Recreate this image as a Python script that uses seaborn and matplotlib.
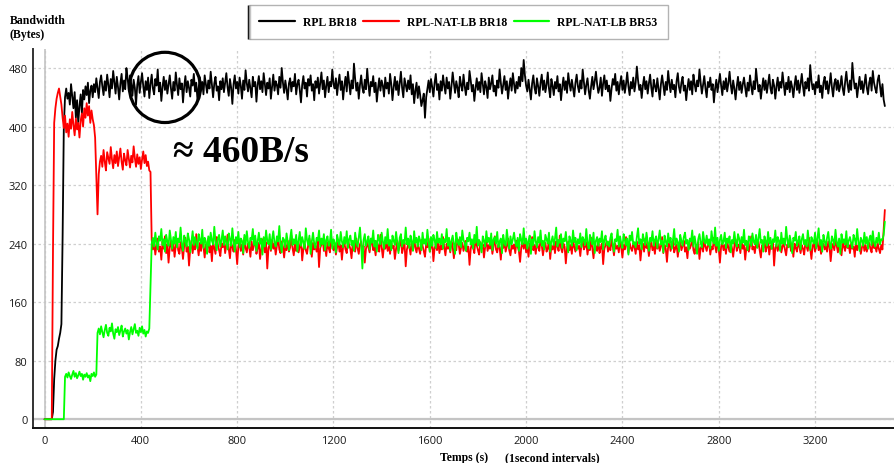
import numpy as np
import pandas as pd
import matplotlib
matplotlib.use("Agg")
import matplotlib.pyplot as plt
from matplotlib.lines import Line2D
from matplotlib.patches import Ellipse
from matplotlib.ticker import MultipleLocator
from matplotlib.font_manager import FontProperties
import seaborn as sns

STEP = 5  # seconds between plotted samples

series_names = ["RPL BR18", "RPL-NAT-LB BR18", "RPL-NAT-LB BR53"]
series_colors = ["#000000", "#ff0000", "#00ff00"]

rpl_br18 = [
    0, 0, 0, 0, 0, 0, 0, 10, 55, 80, 95, 100, 110, 118, 130, 250, 400, 440,
    452, 438, 446, 430, 458, 441, 425, 447, 412, 436, 405, 428, 444, 418, 450, 437, 455, 443, 460, 432, 449, 456, 440,
    458, 447, 466, 452, 439, 461, 470, 455, 443, 462, 449, 471, 457, 440, 465, 452, 476, 460, 445, 468,
    454, 437, 459, 472, 448, 463, 451, 480, 466, 449, 470, 458, 442, 464, 453, 430, 457, 469, 446, 461,
    473, 455, 441, 462, 450, 467, 439, 458, 471, 452, 444, 465, 456, 478, 448, 460, 435, 454, 468, 450,
    463, 445, 458, 470, 452, 438, 461, 449, 474, 457, 443, 466, 451, 459, 433, 455, 469, 447, 462, 453,
    441, 464, 456, 472, 448, 460, 437, 453, 467, 450, 461, 444, 470, 458, 446, 463, 452, 475, 457, 440,
    459, 468, 449, 455, 436, 462, 451, 466, 447, 460, 473, 454, 442, 465, 453, 431, 458, 470, 452, 461,
    445, 467, 456, 438, 463, 450, 477, 459, 448, 464, 452, 440, 468, 455, 461, 434, 457, 469, 451, 462,
    447, 473, 458, 443, 460, 452, 466, 438, 455, 471, 449, 462, 457, 444, 468, 453, 480, 460, 446, 463,
    451, 437, 459, 466, 448, 461, 455, 472, 444, 458, 464, 450, 433, 457, 469, 452, 460, 441, 465, 456,
    470, 449, 458, 436, 462, 453, 467, 445, 459, 474, 451, 463, 440, 456, 468, 447, 461, 455, 478, 458,
    452, 466, 443, 459, 471, 450, 462, 437, 456, 468, 448, 475, 459, 444, 463, 452, 486, 465, 449, 460,
    438, 457, 470, 453, 446, 464, 451, 479, 458, 442, 461, 455, 469, 447, 460, 434, 452, 466, 449, 463,
    456, 441, 467, 452, 460, 445, 472, 458, 436, 454, 468, 450, 462, 443, 459, 475, 453, 440, 466, 457,
    448, 463, 451, 470, 444, 458, 432, 449, 460, 439, 455, 443, 428, 436, 445, 412, 440, 452, 463, 447,
    465, 454, 441, 460, 472, 450, 458, 437, 462, 449, 470, 456, 445, 467, 452, 461, 438, 455, 474, 459,
    446, 462, 453, 440, 468, 457, 449, 471, 455, 443, 460, 451, 476, 463, 448, 457, 435, 452, 466, 450,
    461, 447, 473, 458, 444, 462, 454, 439, 467, 451, 459, 470, 448, 456, 442, 463, 453, 478, 460, 445,
    457, 469, 450, 462, 438, 455, 466, 449, 473, 458, 446, 461, 452, 468, 455, 480, 462, 491, 470, 456,
    448, 464, 451, 437, 459, 470, 453, 445, 466, 455, 442, 460, 471, 450, 463, 447, 457, 474, 452, 440,
    465, 456, 443, 461, 452, 469, 448, 458, 436, 454, 467, 450, 462, 446, 473, 459, 449, 464, 453, 441,
    460, 471, 455, 447, 463, 452, 478, 461, 444, 457, 466, 449, 438, 455, 468, 451, 462, 475, 458, 446,
    453, 467, 442, 459, 470, 451, 463, 448, 456, 435, 452, 465, 457, 472, 449, 461, 444, 458, 469, 450,
    463, 446, 458, 474, 455, 443, 461, 452, 467, 448, 460, 482, 463, 450, 457, 439, 456, 468, 451, 462,
    445, 459, 471, 453, 441, 464, 455, 448, 466, 452, 437, 458, 470, 456, 443, 461, 450, 476, 459, 447,
    464, 451, 457, 440, 462, 473, 454, 446, 460, 468, 449, 456, 436, 453, 465, 450, 462, 444, 471, 458,
    448, 463, 455, 478, 460, 445, 457, 469, 452, 440, 461, 454, 467, 450, 458, 433, 452, 464, 447, 460,
    472, 456, 443, 462, 451, 466, 448, 459, 475, 457, 445, 463, 452, 437, 455, 468, 450, 461, 446, 458,
    467, 453, 441, 460, 449, 470, 455, 444, 462, 451, 479, 462, 448, 457, 438, 453, 466, 450, 463, 446,
    459, 471, 452, 445, 464, 456, 438, 455, 467, 449, 461, 453, 474, 458, 443, 460, 451, 468, 447, 462,
    454, 440, 457, 469, 450, 463, 446, 458, 472, 455, 442, 461, 452, 466, 449, 484, 463, 451, 458, 444,
    461, 453, 470, 447, 456, 439, 460, 468, 451, 462, 445, 457, 473, 454, 441, 459, 465, 450, 463, 448,
    456, 469, 452, 443, 461, 475, 458, 447, 463, 450, 487, 466, 452, 459, 440, 455, 468, 451, 462, 446,
    458, 471, 453, 444, 460, 467, 449, 476, 460, 452, 446, 463, 470, 455, 441, 458, 437, 428,
]

rpl_nat_lb_br18 = [
    0, 0, 0, 0, 0, 0, 0,
    230, 405, 425, 438, 446, 452, 441, 430, 412, 398, 415, 392, 404, 386, 410, 397, 420, 402, 388, 411,
    396, 405, 385, 408, 418, 400, 425, 412, 432, 415, 428, 405, 422, 410, 402, 385, 330, 280, 335, 352,
    360, 345, 368, 352, 340, 365, 357, 349, 372, 355, 343, 361, 350, 366, 346, 358, 370, 352, 341, 363,
    354, 347, 368, 356, 344, 360, 351, 373, 357, 345, 362, 349, 358, 342, 355, 366, 350, 361, 346, 352, 340,
    338, 245,
    232, 241, 225, 238, 247, 229, 236, 218, 243, 233, 250, 227, 239, 214, 235, 244, 230, 240, 222, 237,
    246, 231, 226, 242, 235, 219, 238, 248, 229, 236, 210, 233, 244, 227, 240, 232, 253, 237, 224, 241,
    230, 245, 236, 221, 239, 233, 247, 228, 237, 216, 242, 234, 226, 249, 238, 231, 223, 240, 235, 244,
    227, 238, 252, 233, 220, 241, 236, 229, 245, 232, 212, 237, 243, 230, 239, 225, 248, 234, 228, 240,
    236, 222, 243, 231, 238, 247, 226, 235, 241, 219, 233, 246, 237, 228, 242, 206, 234, 239, 230, 245,
    233, 240, 225, 237, 249, 232, 227, 243, 236, 221, 238, 231, 244, 229, 235, 251, 234, 224, 239, 230,
    242, 228, 236, 245, 217, 233, 240, 231, 226, 238, 247, 235, 222, 241, 232, 237, 229, 243, 208, 234,
    239, 246, 230, 236, 223, 242, 234, 228, 250, 237, 231, 240, 225, 235, 244, 229, 238, 218, 236, 241,
    232, 227, 245, 238, 233, 220, 241, 236, 229, 247, 234, 226, 239, 243, 230, 237, 214, 233, 242, 235,
    228, 240, 247, 231, 236, 224, 243, 237, 229, 252, 235, 221, 238, 233, 245, 230, 239, 226, 241, 234,
    237, 219, 233, 244, 230, 238, 246, 227, 235, 241, 209, 232, 239, 236, 225, 243, 231, 248, 234, 228,
    240, 233, 226, 245, 237, 230, 222, 239, 235, 247, 229, 236, 242, 216, 234, 238, 231, 244, 227, 237,
    232, 249, 235, 224, 240, 233, 238, 228, 243, 236, 220, 237, 231, 246, 239, 226, 235, 241, 230, 237,
    244, 229, 236, 211, 233, 240, 235, 227, 248, 238, 231, 225, 242, 234, 239, 221, 236, 245, 230, 238,
    233, 241, 226, 237, 250, 232, 228, 239, 235, 218, 240, 234, 243, 229, 236, 247, 231, 224, 238, 233,
    239, 227, 244, 236, 230, 215, 235, 241, 233, 246, 228, 237, 222, 240, 234, 249, 231, 238, 226, 242,
    235, 230, 247, 238, 224, 236, 241, 229, 233, 245, 219, 237, 232, 240, 227, 243, 236, 230, 251, 234,
    228, 240, 236, 213, 234, 243, 231, 238, 226, 246, 235, 229, 241, 233, 237, 223, 239, 244, 232, 236,
    242, 225, 237, 231, 248, 234, 220, 239, 236, 230, 245, 227, 235, 240, 212, 233, 238, 243, 229, 237,
    231, 246, 236, 224, 240, 233, 237, 228, 244, 235, 221, 238, 232, 249, 236, 227, 241, 234, 230, 239,
    236, 226, 243, 232, 238, 217, 235, 240, 229, 247, 234, 238, 223, 236, 242, 231, 237, 226, 244, 233,
    240, 230, 236, 249, 227, 238, 233, 215, 236, 241, 230, 237, 245, 228, 234, 239, 222, 236, 243, 231,
    237, 244, 229, 235, 220, 240, 233, 238, 247, 231, 226, 239, 235, 242, 219, 234, 237, 229, 245, 236,
    230, 238, 243, 225, 236, 232, 248, 237, 228, 240, 234, 214, 236, 241, 231, 238, 226, 243, 235, 229,
    241, 234, 222, 237, 246, 230, 236, 239, 227, 244, 233, 238, 218, 235, 240, 229, 237, 250, 232, 236,
    227, 240, 235, 243, 231, 221, 238, 234, 246, 229, 236, 241, 225, 237, 233, 245, 210, 234, 239, 230,
    237, 244, 228, 236, 241, 232, 224, 239, 235, 247, 230, 237, 222, 240, 234, 229, 243, 236, 227, 238,
    233, 225, 242, 236, 230, 248, 234, 219, 237, 241, 229, 236, 244, 231, 238, 226, 235, 240, 232, 237,
    229, 243, 236, 216, 234, 240, 231, 246, 237, 228, 239, 233, 224, 241, 236, 230, 245, 234, 238, 227,
    240, 233, 236, 222, 244, 231, 237, 239, 226, 235, 242, 230, 238, 229, 236, 241, 233, 228, 245, 234,
    236, 229, 241, 233, 227, 238, 232, 258, 286,
]

rpl_nat_lb_br53 = [
    0, 0, 0, 0, 0, 0, 0, 0, 0, 0, 0, 0, 0, 0, 0, 0, 0,
    58,
    62, 57, 64, 59, 55, 61, 66, 58, 63, 56, 60, 65, 59, 62, 54, 61, 58, 63, 57, 60, 52, 62, 59, 64, 58, 61,
    118,
    124, 116, 127, 119, 112, 122, 129, 118, 114, 125, 120, 131, 117, 110, 123, 119, 126, 115, 121, 128,
    113, 120, 124, 117, 122, 109, 119, 126, 116, 123, 130, 118, 121, 114, 125, 119, 127, 117, 122, 113,
    120, 118, 124,
    180, 240,
    248, 236, 255, 241, 232, 250, 244, 260, 238, 246, 229, 252, 243, 237, 258, 245, 233, 249, 240, 256,
    235, 247, 242, 262, 239, 230, 251, 244, 236, 254, 246, 228, 243, 257, 238, 249, 241, 233, 253, 245,
    240, 259, 234, 248, 243, 226, 250, 237, 255, 244, 239, 263, 242, 231, 247, 252, 236, 245, 258, 238,
    250, 241, 232, 254, 246, 237, 261, 243, 229, 249, 240, 256, 235, 247, 244, 227, 252, 239, 257, 242,
    234, 248, 245, 260, 238, 251, 230, 243, 255, 240, 247, 225, 249, 236, 258, 244, 239, 253, 232, 246,
    257, 241, 236, 250, 243, 264, 239, 228, 248, 245, 235, 254, 242, 231, 247, 259, 238, 246, 240, 252,
    229, 244, 256, 237, 249, 242, 233, 261, 245, 238, 251, 226, 243, 255, 240, 234, 248, 244, 258, 236,
    247, 239, 253, 231, 245, 250, 237, 242, 259, 233, 246, 241, 228, 252, 244, 238, 256, 243, 235, 249,
    240, 257, 234, 246, 251, 238, 244, 230, 255, 242, 236, 248, 262, 239, 206, 245, 253, 237, 243, 250,
    232, 247, 241, 258, 236, 244, 229, 252, 246, 239, 255, 243, 233, 249, 240, 260, 237, 245, 231, 251,
    244, 238, 256, 242, 227, 248, 253, 236, 245, 240, 262, 239, 247, 234, 251, 243, 230, 257, 241, 248,
    236, 250, 244, 231, 255, 240, 246, 238, 259, 243, 229, 249, 237, 252, 245, 234, 256, 241, 247, 239,
    253, 233, 246, 242, 260, 237, 248, 230, 244, 251, 240, 226, 255, 243, 238, 249, 235, 258, 245, 241,
    230, 248, 243, 255, 239, 246, 233, 252, 241, 263, 237, 245, 240, 228, 250, 244, 236, 257, 242, 248,
    238, 254, 231, 246, 249, 240, 256, 235, 243, 247, 227, 252, 241, 237, 259, 244, 233, 250, 239, 246,
    255, 242, 236, 248, 230, 253, 245, 239, 261, 240, 247, 233, 244, 251, 226, 246, 238, 257, 243, 235,
    249, 241, 258, 237, 244, 232, 252, 246, 240, 255, 229, 243, 250, 238, 247, 262, 236, 245, 241, 253,
    234, 247, 243, 256, 239, 228, 250, 244, 237, 258, 242, 248, 231, 246, 240, 254, 235, 249, 245, 238,
    260, 241, 233, 252, 246, 239, 255, 227, 244, 249, 237, 247, 242, 257, 232, 245, 251, 238, 243, 236,
    248, 254, 240, 229, 246, 243, 259, 236, 250, 241, 234, 253, 245, 238, 247, 225, 251, 244, 256, 239,
    242, 235, 249, 261, 240, 246, 232, 253, 244, 238, 255, 242, 230, 248, 243, 257, 237, 245, 250, 234,
    246, 258, 239, 244, 228, 251, 243, 236, 254, 241, 248, 233, 245, 260, 238, 247, 242, 229, 252, 244,
    237, 249, 255, 240, 245, 231, 247, 243, 258, 236, 250, 239, 226, 246, 253, 241, 235, 256, 244, 240,
    251, 238, 246, 233, 257, 244, 240, 262, 237, 248, 230, 245, 252, 239, 243, 255, 234, 247, 241, 250,
    228, 245, 240, 256, 242, 236, 253, 247, 233, 249, 241, 259, 238, 244, 231, 250, 246, 237, 254, 243,
    239, 252, 234, 247, 260, 241, 245, 229, 250, 243, 237, 256, 240, 248, 233, 246, 242, 258, 236, 249,
    244, 230, 255, 240, 247, 238, 263, 245, 235, 251, 242, 227, 248, 244, 256, 237, 243, 250, 232, 246,
    253, 239, 245, 236, 258, 242, 231, 249, 244, 240, 255, 234, 247, 261, 238, 245, 229, 252, 243, 237,
    248, 256, 240, 233, 250, 245, 238, 259, 242, 236, 247, 226, 253, 241, 246, 239, 257, 235, 244, 249,
    241, 234, 252, 246, 239, 260, 243, 230, 248, 244, 237, 255, 240, 249, 233, 246, 251, 238, 257, 242,
    236, 248, 241, 255, 239, 246, 245, 252, 270,
]

x_ticks = [0, 400, 800, 1200, 1600, 2000, 2400, 2800, 3200]
y_ticks = [0, 80, 160, 240, 320, 400, 480]
annotation_text = "\u2248 460B/s"
y_title = ["Bandwidth", "(Bytes)"]
x_title = ["Temps (s)", "(1second intervals)"]

# ---- long-form table -------------------------------------------------------
frames = []
for name, vals in zip(series_names, [rpl_br18, rpl_nat_lb_br18, rpl_nat_lb_br53]):
    frames.append(pd.DataFrame({
        "Temps": np.arange(len(vals)) * STEP,
        "Bandwidth": vals,
        "Serie": name,
    }))
df = pd.concat(frames, ignore_index=True)

sns.set_style("white")
plt.rcParams["font.family"] = ["Liberation Serif", "DejaVu Serif"]
plt.rcParams["text.color"] = "black"

W, H = 894, 464
fig = plt.figure(figsize=(W / 100, H / 100), dpi=100)
ax = fig.add_axes([33 / W, 35 / H, (W - 33) / W, (429 - 50) / H])

ax.axhline(0, color="#c4c4c4", lw=1.6, zorder=1)
ax.axvline(0, color="#c4c4c4", lw=1.2, zorder=1)

sns.lineplot(data=df, x="Temps", y="Bandwidth", hue="Serie",
             hue_order=series_names, palette=dict(zip(series_names, series_colors)),
             estimator=None, sort=False, lw=1.3, legend=False, ax=ax, zorder=3)

ax.set_xlim(-48, 3528)
ax.set_ylim(-12, 506)
ax.set_xticks(x_ticks)
ax.set_yticks(y_ticks)
ax.xaxis.set_minor_locator(MultipleLocator(100))
ax.yaxis.set_minor_locator(MultipleLocator(20))
ax.grid(True, which="major", color="#cfcfcf", lw=0.9, ls=(0, (2, 2)))
ax.set_axisbelow(True)
ax.set_xlabel("")
ax.set_ylabel("")

for s in ["top", "right"]:
    ax.spines[s].set_visible(False)
ax.spines["left"].set_color("#333333")
ax.spines["left"].set_linewidth(1.4)
ax.spines["bottom"].set_color("#111111")
ax.spines["bottom"].set_linewidth(1.4)

tick_font = FontProperties(family="Open Sans", size=8)
ax.tick_params(axis="both", which="major", direction="in", length=6, width=1.0, colors="#222222")
ax.tick_params(axis="both", which="minor", direction="in", length=3, width=0.8, colors="#333333")
ax.tick_params(axis="x", which="major", pad=5)
ax.tick_params(axis="y", which="major", pad=4)
for lab in ax.get_xticklabels() + ax.get_yticklabels():
    lab.set_fontproperties(tick_font)
    lab.set_color("#1a1a1a")

# circle highlighting steady state
ax.add_patch(Ellipse((500, 453.5), 295, 96, fill=False, edgecolor="black", lw=2.3, zorder=5))
ax.text(815, 353, annotation_text, ha="center", va="baseline", color="black",
        fontsize=27, fontweight="bold", family=["Liberation Serif", "DejaVu Serif"], zorder=6)

label_font = dict(fontsize=8.5, fontweight="bold", color="black",
                  family=["Liberation Serif", "DejaVu Serif"])
fig.text(10 / W, 1 - 21 / H, y_title[0], ha="left", va="center", **label_font)
fig.text(10 / W, 1 - 35 / H, y_title[1], ha="left", va="center", **label_font)
fig.text(440 / W, 1 - 458 / H, x_title[0], ha="left", va="center", **label_font)
fig.text(505 / W, 1 - 458 / H, x_title[1], ha="left", va="center", **label_font)

handles = [Line2D([], [], color=c, lw=1.6) for c in series_colors]
leg = fig.legend(handles, series_names, loc="center", bbox_to_anchor=(458.5 / W, 1 - 23 / H),
                 ncol=3, frameon=True, fancybox=False, edgecolor="#a0a0a0",
                 prop=FontProperties(family="Liberation Serif", weight="bold", size=8.5),
                 handlelength=3.0, handletextpad=0.7, columnspacing=0.55, borderpad=0.9)
leg.get_frame().set_linewidth(1.0)
for t in leg.get_texts():
    t.set_color("black")

fig.canvas.draw()
bb = leg.get_frame().get_window_extent(fig.canvas.get_renderer())
bbf = bb.transformed(fig.transFigure.inverted())
fig.add_artist(Line2D([bbf.x0, bbf.x0], [bbf.y0, bbf.y1], transform=fig.transFigure,
                      color="black", lw=2.5, solid_capstyle="butt"))

fig.savefig("out.png", dpi=100)
